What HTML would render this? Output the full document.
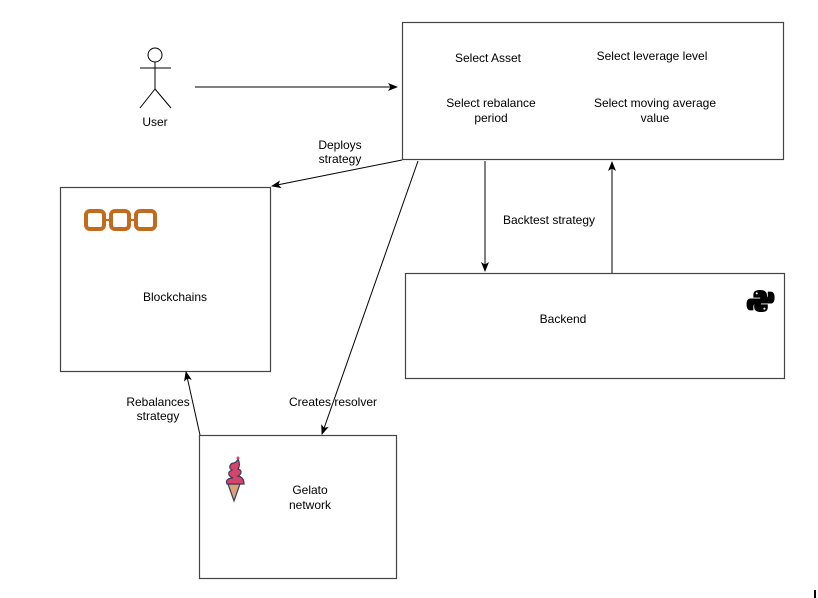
<!DOCTYPE html>
<html><head><style>
html,body{margin:0;padding:0;background:#fff;}
svg{display:block;font-family:"Liberation Sans",sans-serif;font-size:12px;}
</style></head><body>
<svg width="818" height="598" viewBox="0 0 818 598">
<defs>
<marker id="a" markerWidth="12" markerHeight="12" refX="9" refY="5.5" orient="auto" markerUnits="userSpaceOnUse">
<path d="M0,1.5 L10,5.5 L0,9.5 L2.5,5.5 Z" fill="#000"/>
</marker>
</defs>
<rect width="818" height="598" fill="#fff"/>
<g fill="none" stroke="#444" stroke-width="1.2">
<rect x="402.5" y="22.5" width="381" height="137"/>
<rect x="60.5" y="187.5" width="210" height="184"/>
<rect x="405.5" y="273.5" width="379" height="105"/>
<rect x="199.5" y="435.5" width="197" height="143"/>
</g>
<g fill="none" stroke="#000" stroke-width="1">
<circle cx="155" cy="55" r="7"/>
<line x1="155" y1="62" x2="155" y2="89"/>
<line x1="140" y1="68" x2="171" y2="68"/>
<line x1="155" y1="89" x2="140" y2="108"/>
<line x1="155" y1="89" x2="171" y2="108"/>
</g>
<text x="155" y="126" text-anchor="middle">User</text>
<g stroke="#000" stroke-width="1" fill="none" marker-end="url(#a)">
<line x1="195" y1="87" x2="397" y2="87"/>
<line x1="402" y1="160" x2="272" y2="186"/>
<line x1="418" y1="161" x2="322" y2="434"/>
<line x1="485" y1="161" x2="485" y2="271"/>
<line x1="612" y1="273" x2="612" y2="162"/>
<line x1="200" y1="435" x2="186" y2="372"/>
</g>
<g text-anchor="middle">
<text x="488" y="62">Select Asset</text>
<text x="652" y="60">Select leverage level</text>
<text x="491" y="107">Select rebalance</text>
<text x="491" y="122">period</text>
<text x="655" y="107">Select moving average</text>
<text x="655" y="122">value</text>
<text x="340" y="149">Deploys</text>
<text x="340" y="163">strategy</text>
<text x="549" y="224">Backtest strategy</text>
<text x="175" y="301">Blockchains</text>
<text x="563" y="323">Backend</text>
<text x="333" y="406">Creates resolver</text>
<text x="158" y="406">Rebalances</text>
<text x="158" y="420">strategy</text>
<text x="310" y="494">Gelato</text>
<text x="310" y="509">network</text>
</g>
<g fill="none" stroke="#c26a1e" stroke-width="4">
<rect x="86" y="211" width="18" height="18" rx="4"/>
<rect x="111" y="211" width="18" height="18" rx="4"/>
<rect x="136" y="211" width="19" height="18" rx="4"/>
<line x1="104" y1="220" x2="111" y2="220" stroke-width="2"/>
<line x1="129" y1="220" x2="136" y2="220" stroke-width="2"/>
</g>
<g transform="translate(761,301) scale(0.85) translate(-761,-301)">
<path d="M760,288 c-6,0 -8,2 -8,6 v3 h8 v1 h-11 c-4,0 -5,3 -5,7 s1,7 5,7 h3 v-4 c0,-3 2,-5 5,-5 h7 c2,0 4,-2 4,-4 v-5 c0,-4 -3,-6 -8,-6z" fill="#000"/>
<path d="M761,314 c6,0 8,-2 8,-6 v-3 h-8 v-1 h11 c4,0 5,-3 5,-7 s-1,-7 -5,-7 h-3 v4 c0,3 -2,5 -5,5 h-7 c-2,0 -4,2 -4,4 v5 c0,4 3,6 8,6z" fill="#000"/>
<circle cx="756" cy="292" r="1.2" fill="#fff"/>
<circle cx="765" cy="310" r="1.2" fill="#fff"/>
</g>
<g>
<path d="M228,484 l6,17 l6,-17 z" fill="#d9a07a" stroke="#3c3c5a" stroke-width="1.2"/>
<path d="M227,484 c-2,-4 2,-6 6,-6 c-5,-2 -6,-6 -1,-8 c-4,-2 -2,-7 2,-7 c3,-1 4,-4 4,-4 c2,4 2,7 0,10 c4,1 4,5 0,7 c5,1 6,5 6,8 z" fill="#d6436b" stroke="#3c3c5a" stroke-width="1.2"/>
<circle cx="238" cy="458" r="1.5" fill="#d6436b"/>
</g>
<rect x="814" y="590" width="2" height="8" fill="#000"/>
</svg>
</body></html>
